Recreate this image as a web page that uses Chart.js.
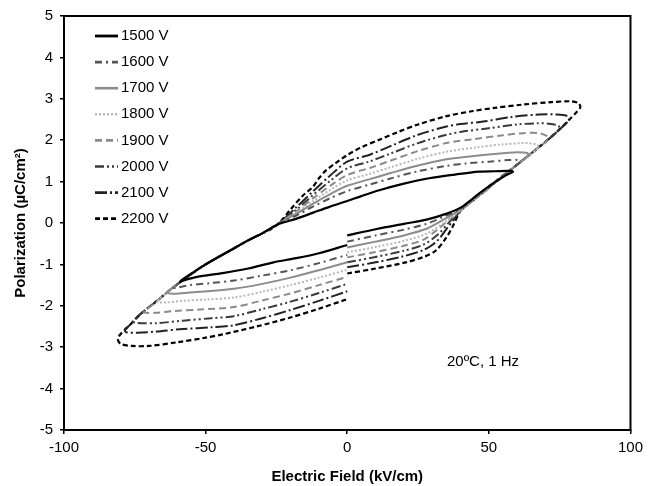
<!DOCTYPE html>
<html>
<head>
<meta charset="utf-8">
<script src="https://cdn.jsdelivr.net/npm/chart.js@4.4.0/dist/chart.umd.min.js"></script>
<style>
  html, body { margin: 0; padding: 0; background: #fff; }
  #wrap { width: 648px; height: 486px; position: relative; }
</style>
</head>
<body>
<div id="wrap"><canvas id="c" width="648" height="486"></canvas></div>
<script>
// ---- Data (E in kV/cm, P in µC/cm²) ----
const seriesLabels = ['1500 V', '1600 V', '1700 V', '1800 V', '1900 V', '2000 V', '2100 V', '2200 V'];

const e1500 = [0, 10, 20, 28, 34.8, 40, 46.5, 52, 56, 58.5, 57.5, 52, 46.5, 38, 28.9, 20, 11.3, 5, 0, -6.3, -12, -18.1, -24, -30, -35, -41.5, -50, -55, -58.5, -59, -57.5, -53, -44, -35, -26, -18, -10, 0];
const p1500 = [-0.3, -0.15, -0.02, 0.08, 0.22, 0.37, 0.71, 0.98, 1.15, 1.24, 1.26, 1.25, 1.24, 1.17, 1.08, 0.95, 0.79, 0.65, 0.53, 0.39, 0.25, 0.1, -0.02, -0.25, -0.42, -0.67, -1.0, -1.22, -1.38, -1.42, -1.38, -1.3, -1.21, -1.1, -0.95, -0.85, -0.73, -0.53];

const e1600 = [0, 10, 20, 28, 34, 40, 46, 52, 57, 61, 60.5, 57, 50, 42, 35, 25, 15, 8, 0, -6, -12, -18, -24, -30, -35, -41.5, -50, -56, -61, -61.5, -60, -55.6, -48, -40, -30, -20, -10, 0];
const p1600 = [-0.45, -0.3, -0.16, -0.02, 0.15, 0.35, 0.66, 0.98, 1.25, 1.47, 1.52, 1.52, 1.48, 1.44, 1.38, 1.25, 1.07, 0.93, 0.77, 0.6, 0.4, 0.18, 0.0, -0.25, -0.42, -0.67, -1.0, -1.28, -1.53, -1.57, -1.56, -1.5, -1.45, -1.39, -1.27, -1.14, -0.97, -0.77];

const e1700 = [0, 10, 20, 28, 34, 40, 46, 52, 58, 64, 63.5, 60, 55.9, 48, 40, 35, 25, 15, 8, 0, -6, -12, -18, -24, -30, -35, -41.5, -50, -56, -63, -63.5, -61, -55.6, -48, -40, -30, -20, -10, 0];
const p1700 = [-0.59, -0.45, -0.3, -0.14, 0.08, 0.33, 0.66, 0.98, 1.3, 1.63, 1.69, 1.71, 1.69, 1.64, 1.58, 1.54, 1.39, 1.2, 1.06, 0.9, 0.7, 0.47, 0.22, 0.0, -0.25, -0.42, -0.67, -1.0, -1.28, -1.64, -1.69, -1.71, -1.68, -1.64, -1.59, -1.47, -1.32, -1.14, -0.95];

const e1800 = [0, 10, 20, 28, 34, 40, 46, 52, 58, 63, 67.5, 67, 64, 61.7, 55, 45, 35, 25, 15, 8, 0, -6, -12, -18, -24, -30, -35, -41.5, -50, -56, -61.5, -67, -67.5, -64, -58, -50, -40, -30, -20, -10, 0];
const p1800 = [-0.71, -0.58, -0.43, -0.26, 0.0, 0.31, 0.64, 0.97, 1.3, 1.56, 1.82, 1.89, 1.93, 1.93, 1.9, 1.82, 1.72, 1.55, 1.34, 1.19, 1.03, 0.8, 0.53, 0.25, 0.0, -0.25, -0.42, -0.67, -1.0, -1.28, -1.56, -1.87, -1.91, -1.92, -1.88, -1.85, -1.8, -1.66, -1.5, -1.32, -1.13];

const e1900 = [0, 10, 20, 27, 32, 36, 40, 46, 52, 58, 64, 71, 70.5, 67.6, 62, 55, 45, 35, 25, 15, 8, 0, -6, -12, -18, -24, -30, -35, -41.5, -50, -56, -61.5, -67, -71.5, -71.8, -68, -61.5, -52, -40, -30, -20, -10, 0];
const p1900 = [-0.83, -0.7, -0.55, -0.4, -0.15, 0.08, 0.3, 0.63, 0.96, 1.3, 1.63, 2.02, 2.1, 2.17, 2.17, 2.12, 2.03, 1.93, 1.74, 1.5, 1.33, 1.16, 0.9, 0.6, 0.28, 0.0, -0.25, -0.42, -0.67, -1.0, -1.28, -1.56, -1.87, -2.12, -2.16, -2.17, -2.13, -2.09, -2.03, -1.87, -1.7, -1.5, -1.3];

const e2000 = [0, 10, 20, 27, 32, 36, 40, 46, 52, 58, 64, 70, 75, 74.5, 71, 67.6, 60, 50, 40, 35, 25, 15, 8, 0, -6, -12, -18, -24, -30, -35, -41.5, -50, -56, -61.5, -67, -73, -75.5, -75, -72, -67.4, -58, -48, -40, -30, -20, -10, 0];
const p2000 = [-0.95, -0.82, -0.67, -0.52, -0.28, 0.02, 0.3, 0.63, 0.96, 1.3, 1.63, 1.96, 2.27, 2.35, 2.4, 2.41, 2.38, 2.29, 2.2, 2.13, 1.93, 1.67, 1.49, 1.32, 1.02, 0.68, 0.32, 0.0, -0.25, -0.42, -0.67, -1.0, -1.28, -1.56, -1.87, -2.2, -2.37, -2.41, -2.42, -2.42, -2.36, -2.3, -2.25, -2.08, -1.9, -1.69, -1.47];

const e2100 = [0, 10, 20, 27, 31.5, 35, 38, 40, 46, 52, 58, 64, 70, 74, 78.5, 78, 74, 67.6, 58, 48, 40, 35, 25, 15, 8, 0, -6, -12, -18, -24, -30, -35, -41.5, -50, -56, -61.5, -67, -73, -77, -78.5, -78, -74, -67.4, -58, -48, -40, -30, -20, -10, 0];
const p2100 = [-1.07, -0.95, -0.8, -0.65, -0.45, -0.15, 0.12, 0.3, 0.63, 0.96, 1.3, 1.63, 1.96, 2.2, 2.5, 2.58, 2.62, 2.62, 2.56, 2.45, 2.39, 2.33, 2.13, 1.85, 1.65, 1.48, 1.15, 0.77, 0.38, 0.0, -0.25, -0.42, -0.67, -1.0, -1.28, -1.56, -1.87, -2.2, -2.48, -2.58, -2.64, -2.65, -2.62, -2.56, -2.52, -2.47, -2.3, -2.1, -1.88, -1.65];

const e2200 = [0, 10, 20.7, 27, 31.2, 35, 37.5, 40, 44, 50, 56, 62, 68, 74, 78, 81, 82.3, 81.5, 79, 72, 62, 52, 44, 35, 25, 18, 11.3, 5, 0, -4, -7.5, -10, -12.2, -15.7, -20, -24, -27, -30, -35, -41.5, -50, -56, -61.5, -67, -73, -77, -80, -81, -80, -76, -70, -60, -50, -44, -32, -20.4, -10, 0];
const p2200 = [-1.22, -1.1, -0.95, -0.82, -0.67, -0.35, -0.05, 0.3, 0.55, 0.88, 1.2, 1.52, 1.85, 2.2, 2.47, 2.68, 2.8, 2.9, 2.94, 2.92, 2.86, 2.78, 2.7, 2.58, 2.38, 2.2, 2.01, 1.83, 1.64, 1.45, 1.27, 1.08, 0.87, 0.66, 0.33, 0.0, -0.15, -0.25, -0.42, -0.67, -1.0, -1.28, -1.56, -1.87, -2.2, -2.48, -2.68, -2.8, -2.92, -2.97, -2.97, -2.88, -2.77, -2.69, -2.5, -2.29, -2.07, -1.84];

const xTicks = [-100, -50, 0, 50, 100];
const yTicks = [-5, -4, -3, -2, -1, 0, 1, 2, 3, 4, 5];
const xTitle = 'Electric Field (kV/cm)';
const yTitle = 'Polarization (µC/cm²)';
const noteText = '20ºC, 1 Hz';
const noteE = 35.2, noteP = -3.36;

// ---- Styles ----
const styles = [
  { color: '#000000', dash: [], width: 2.2 },
  { color: '#555555', dash: [7, 4, 2, 4], width: 2 },
  { color: '#8c8c8c', dash: [], width: 2 },
  { color: '#b8b8b8', dash: [2, 2], width: 2 },
  { color: '#8a8a8a', dash: [7, 4], width: 2 },
  { color: '#3a3a3a', dash: [9, 3, 2, 3, 2, 3], width: 2 },
  { color: '#222222', dash: [12, 3, 2, 3], width: 2 },
  { color: '#000000', dash: [5, 3], width: 2.2 }
];

const eArrays = [e1500, e1600, e1700, e1800, e1900, e2000, e2100, e2200];
const pArrays = [p1500, p1600, p1700, p1800, p1900, p2000, p2100, p2200];

const datasets = seriesLabels.map((lab, i) => ({
  label: lab,
  data: eArrays[i].map((e, k) => ({ x: e, y: pArrays[i][k] })),
  showLine: true,
  borderColor: styles[i].color,
  borderDash: styles[i].dash,
  borderWidth: styles[i].width,
  pointRadius: 0,
  fill: false,
  tension: 0.3
}));

const FONT = "'Liberation Sans', Arial, sans-serif";

const decor = {
  id: 'decor',
  afterDatasetsDraw(chart) {
    const ctx = chart.ctx;
    const a = chart.chartArea;
    const xs = chart.scales.x, ys = chart.scales.y;
    ctx.save();
    // frame
    ctx.strokeStyle = '#000';
    ctx.lineWidth = 2;
    ctx.setLineDash([]);
    ctx.strokeRect(a.left, a.top, a.right - a.left, a.bottom - a.top);
    // legend
    ctx.font = '15px ' + FONT;
    ctx.textBaseline = 'middle';
    ctx.textAlign = 'left';
    chart.data.datasets.forEach((ds, i) => {
      const y = a.top + 20 + i * 26.1;
      ctx.beginPath();
      ctx.strokeStyle = ds.borderColor;
      ctx.lineWidth = ds.borderWidth + 0.6;
      ctx.setLineDash(ds.borderDash || []);
      ctx.moveTo(a.left + 31, y);
      ctx.lineTo(a.left + 54, y);
      ctx.stroke();
      ctx.setLineDash([]);
      ctx.fillStyle = '#000';
      ctx.fillText(ds.label, a.left + 57, y);
    });
    // note
    ctx.fillStyle = '#000';
    ctx.fillText(noteText, xs.getPixelForValue(noteE), ys.getPixelForValue(noteP));
    ctx.restore();
  }
};

new Chart(document.getElementById('c'), {
  type: 'scatter',
  data: { datasets },
  plugins: [decor],
  options: {
    responsive: false,
    animation: false,
    devicePixelRatio: 1,
    layout: { padding: { top: 16, right: 16, left: 0, bottom: 0 } },
    plugins: { legend: { display: false }, tooltip: { enabled: false } },
    scales: {
      x: {
        type: 'linear', min: -100, max: 100,
        afterFit(s) { s.height = 56; },
        afterBuildTicks(s) { s.ticks = xTicks.map(v => ({ value: v })); },
        grid: { display: true, drawOnChartArea: false, drawTicks: true, tickLength: 4, color: '#000', lineWidth: 1.5 },
        border: { display: true, color: '#000', width: 2 },
        ticks: { color: '#000', font: { family: FONT, size: 15 }, padding: 5, maxRotation: 0 },
        title: { display: true, text: xTitle, color: '#000', font: { family: FONT, size: 15, weight: 'bold' }, padding: { top: 0, bottom: 0 } }
      },
      y: {
        type: 'linear', min: -5, max: 5,
        afterFit(s) { s.width = 64; },
        afterBuildTicks(s) { s.ticks = yTicks.map(v => ({ value: v })); },
        grid: { display: true, drawOnChartArea: false, drawTicks: true, tickLength: 4, color: '#000', lineWidth: 1.5 },
        border: { display: true, color: '#000', width: 2 },
        ticks: { color: '#000', font: { family: FONT, size: 15 }, padding: 7 },
        title: { display: true, text: yTitle, color: '#000', font: { family: FONT, size: 15, weight: 'bold' }, padding: { top: 12, bottom: 0 } }
      }
    }
  }
});
</script>
</body>
</html>
